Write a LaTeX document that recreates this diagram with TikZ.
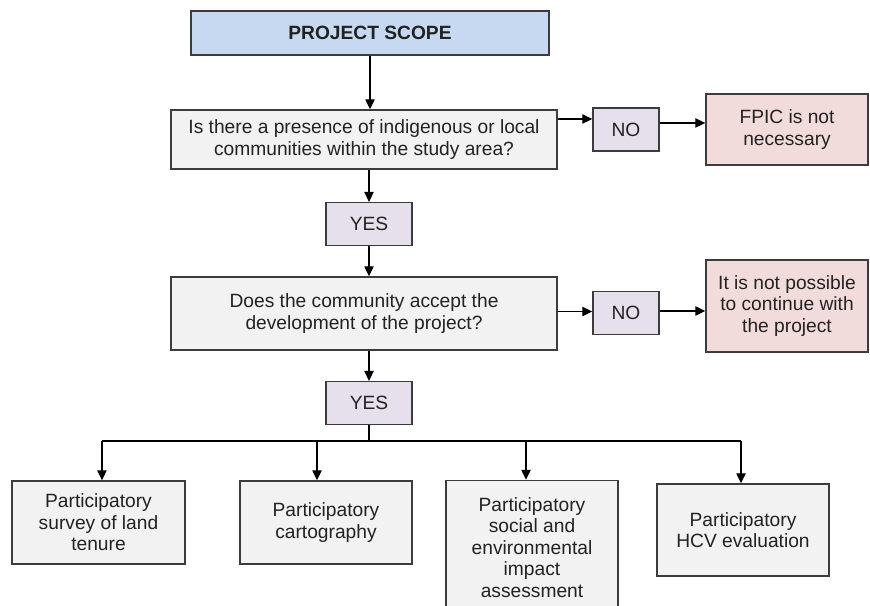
\documentclass[tikz,border=0pt]{standalone}
\usepackage{fontspec}
\setmainfont{Liberation Sans}
\usetikzlibrary{arrows.meta}

\definecolor{scopeblue}{RGB}{198,217,240}
\definecolor{askgray}{RGB}{242,242,242}
\definecolor{answerlilac}{RGB}{229,224,236}
\definecolor{stoppink}{RGB}{242,220,219}
\definecolor{edgegray}{RGB}{60,60,60}
\definecolor{inkgray}{RGB}{34,34,34}

\begin{document}
\begin{tikzpicture}[x=0.75pt,y=0.75pt,yscale=-1,
	box/.style={draw=edgegray, line width=1.1pt, text=inkgray, align=center, inner sep=2pt, font=\fontsize{14.4pt}{16.2pt}\selectfont},
	scopebox/.style={box, fill=scopeblue, minimum width=268.5pt, minimum height=33pt, font=\fontsize{14.4pt}{16.2pt}\selectfont\bfseries},
	askbox/.style={box, fill=askgray, minimum width=289.5pt},
	answerbox/.style={box, fill=answerlilac, minimum height=32pt},
	stopbox/.style={box, fill=stoppink, minimum width=121.5pt},
	taskbox/.style={box, fill=askgray, minimum width=129pt},
	arr/.style={draw=black, line width=1pt, -{Triangle[length=7.5pt,width=7pt]}}
	]
	%set diagram size 870 x 606
	\clip (0,0) rectangle (870,606);
	
	%Box: project scope
	\node [scopebox] (scope) at (370,33) {PROJECT SCOPE};
	%Box: first question
	\node [askbox, minimum height=44.25pt] (ask1) at (364,139.5) {Is there a presence of indigenous or local\\communities within the study area?};
	%Box: no / fpic
	\node [answerbox, minimum width=49.5pt] (no1) at (626,129.5) {NO};
	\node [stopbox, minimum height=53.25pt] (nofpic) at (787,129.5) {FPIC is not\\necessary};
	%Box: yes
	\node [answerbox, minimum width=64.5pt] (yes1) at (369,224) {YES};
	%Box: second question
	\node [askbox, minimum height=54.75pt] (ask2) at (364,313.5) {Does the community accept the\\development of the project?};
	%Box: no / stop
	\node [answerbox, minimum width=49.5pt] (no2) at (626,313) {NO};
	\node [stopbox, minimum height=69pt] (halt) at (787,306) {It is not possible\\to continue with\\the project};
	%Box: yes
	\node [answerbox, minimum width=64.5pt] (yes2) at (369,403) {YES};
	
	%Boxes: participatory tasks
	\node [taskbox, minimum width=129.75pt, minimum height=62.25pt] (task1) at (98.5,522.5) {Participatory\\survey of land\\tenure};
	\node [taskbox, minimum height=62.25pt] (task2) at (326,522.5) {Participatory\\cartography};
	\node [taskbox, minimum height=100.5pt] (task3) at (532,547.5) {Participatory\\social and\\environmental\\impact\\assessment};
	\node [taskbox, minimum height=69pt] (task4) at (743,530) {Participatory\\HCV evaluation};
	
	%Straight Lines: main column
	\draw [arr] (scope.south) -- (scope.south |- ask1.north);
	\draw [arr] (yes1.north |- ask1.south) -- (yes1.north);
	\draw [arr] (yes1.south) -- (yes1.south |- ask2.north);
	\draw [arr] (yes2.north |- ask2.south) -- (yes2.north);
	
	%Straight Lines: no branches (yshift flipped by yscale=-1)
	\draw [arr] ([yshift=-15.4pt]ask1.east) -- ([yshift=-15.4pt]ask1.east -| no1.west);
	\draw [arr] ([yshift=-4.9pt]no1.east) -- ([yshift=-4.9pt]no1.east -| nofpic.west);
	\draw [arr] ([yshift=-1.5pt]ask2.east) -- ([yshift=-1.5pt]ask2.east -| no2.west);
	\draw [arr] ([yshift=-1.5pt]no2.east) -- ([yshift=-1.5pt]no2.east -| halt.west);
	
	%Straight Lines: split to tasks
	\coordinate (split) at (369,441);
	\draw [line width=1pt] (yes2.south) -- (split);
	\draw [line width=1pt] ([xshift=2.6pt]task1.north |- split) -- ([xshift=-1.5pt]task4.north |- split);
	\foreach \t/\dx in {task1/2.6pt, task2/-6.75pt, task3/-4.5pt, task4/-1.5pt}
		\draw [arr] ([xshift=\dx]\t.north |- split) -- ([xshift=\dx]\t.north);
	
\end{tikzpicture}
\end{document}
